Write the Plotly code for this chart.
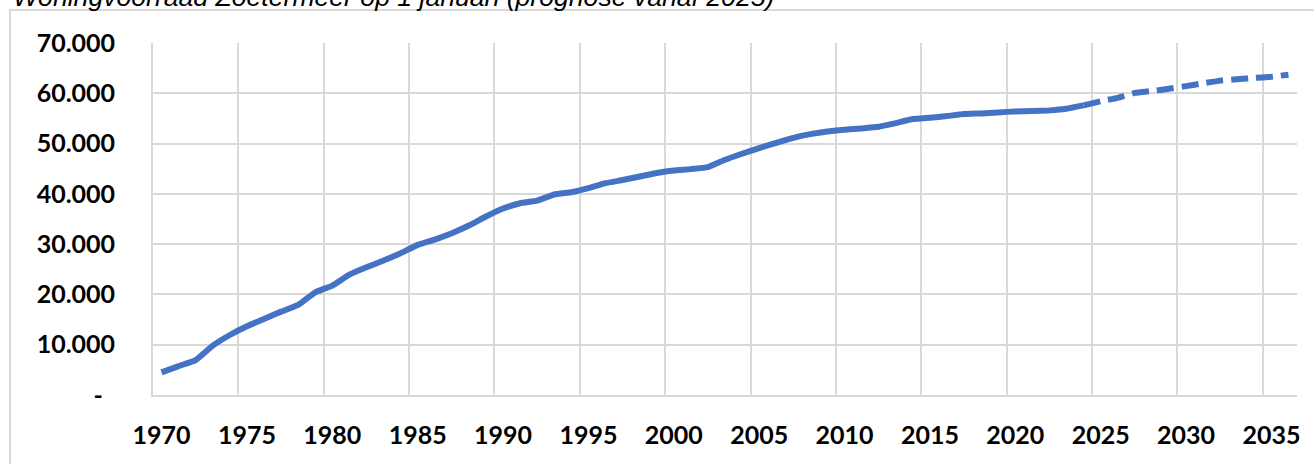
import plotly.graph_objects as go

# ---- data ----
title_text = "Woningvoorraad Zoetermeer op 1 januari (prognose vanaf 2025)"

hist_years = list(range(1970, 2025))
hist_values = [
    4500, 5750, 6950, 9810, 11930, 13660, 15120, 16580, 17900, 20420,
    21750, 23940, 25400, 26730, 28190, 29850, 30910, 32170, 33700, 35490,
    37080, 38140, 38670, 39870, 40330, 41130, 42120, 42750, 43450, 44150,
    44650, 44920, 45310, 46770, 47970, 49100, 50160, 51150, 51880, 52410,
    52750, 53010, 53340, 54070, 54870, 55140, 55470, 55870, 56000, 56200,
    56400, 56460, 56600, 56930, 57590,
]

forecast_years = list(range(2024, 2037))
forecast_values = [
    57590, 58420, 59100, 60080, 60450, 60900, 61420, 61980, 62520, 62800,
    63050, 63280, 63700,
]

x_tick_vals = list(range(1970, 2036, 5))
x_tick_text = [str(v) for v in x_tick_vals]
x_grid_vals = [v - 0.5 for v in x_tick_vals]

y_tick_vals = [0, 10000, 20000, 30000, 40000, 50000, 60000, 70000]
y_tick_text = ["-\u00a0\u00a0", "10.000", "20.000", "30.000", "40.000",
               "50.000", "60.000", "70.000"]

# ---- style ----
LINE_COLOR = "#4472C4"
GRID_COLOR = "#d9d9d9"
TICK_FONT = dict(family="Lato", size=25, color="#000000", weight="bold")

W, H = 1314, 464
L, R, T, B = 153, 17, 43, 69
pw, ph = W - L - R, H - T - B

fig = go.Figure()
fig.add_trace(go.Scatter(
    x=hist_years, y=hist_values, mode="lines",
    line=dict(color=LINE_COLOR, width=6, shape="spline", smoothing=0.3),
    hoverinfo="x+y", showlegend=False,
))
fig.add_trace(go.Scatter(
    x=forecast_years, y=forecast_values, mode="lines",
    line=dict(color=LINE_COLOR, width=6, dash="17px,8px", shape="spline", smoothing=0.3),
    hoverinfo="x+y", showlegend=False,
))

# chart-area border (partly outside the image, as in the reference)
fig.add_shape(
    type="rect", xref="paper", yref="paper",
    x0=(10 - L) / pw, x1=(W + 20 - L) / pw,
    y0=-(B + 20) / ph, y1=1 + (T - 10) / ph,
    line=dict(color=GRID_COLOR, width=2), fillcolor="rgba(0,0,0,0)", layer="below",
)

fig.add_annotation(
    text=title_text, showarrow=False, xref="paper", yref="paper",
    x=(11 - L) / pw, xanchor="left",
    y=1 + (T - 14.5) / ph, yanchor="bottom",
    font=dict(family="Liberation Sans", size=26.6, color="#000000", style="italic"),
)

fig.update_layout(
    width=W, height=H,
    margin=dict(l=L, r=R, t=T, b=B, pad=0, autoexpand=False),
    paper_bgcolor="white", plot_bgcolor="white",
    showlegend=False,
    xaxis=dict(
        range=[1969.5, 2036.5], automargin=False,
        tickmode="array", tickvals=x_tick_vals, ticktext=x_tick_text,
        showgrid=False, zeroline=False,
        showline=True, linecolor=GRID_COLOR, linewidth=1.8, ticks="",
        tickfont=TICK_FONT, ticklabelstandoff=17,
        minor=dict(tickmode="array", tickvals=x_grid_vals, showgrid=True,
                   gridcolor=GRID_COLOR, gridwidth=1.8, ticks=""),
    ),
    yaxis=dict(
        range=[0, 70000], automargin=False,
        tickmode="array", tickvals=y_tick_vals, ticktext=y_tick_text,
        showgrid=True, gridcolor=GRID_COLOR, gridwidth=1.8,
        zeroline=False,
        showline=True, linecolor=GRID_COLOR, linewidth=1.8, ticks="",
        tickfont=TICK_FONT, ticklabelstandoff=31,
    ),
)

fig.write_html(
    "out.html",
    config={"displayModeBar": False},
    post_script="document.body.style.margin='0';document.body.style.overflow='hidden';",
)
